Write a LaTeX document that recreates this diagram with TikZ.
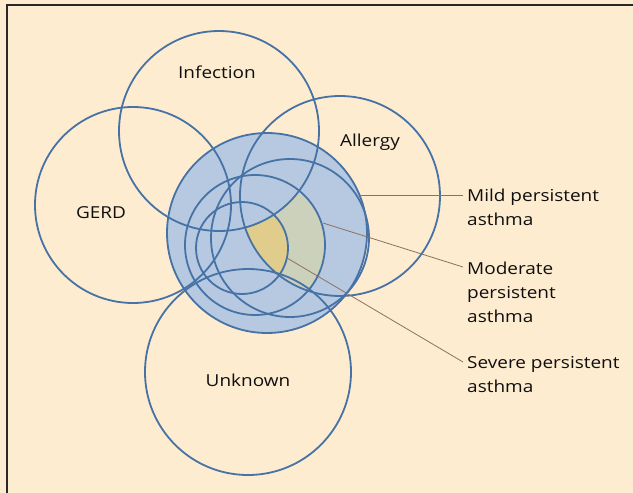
\documentclass[tikz,border=0pt]{standalone}
\usepackage{fontspec}
\setmainfont[FakeStretch=1.15]{Open Sans}
\definecolor{bg}{RGB}{253,236,208}
\definecolor{ring}{RGB}{70,114,166}
\definecolor{bluefill}{RGB}{182,201,224}
\definecolor{modfill}{RGB}{204,209,188}
\definecolor{sevfill}{RGB}{224,205,140}
\definecolor{leader}{RGB}{140,112,100}
\definecolor{frame}{RGB}{40,40,40}
\definecolor{txt}{RGB}{15,15,15}
\tikzset{
  ringline/.style={draw=ring, line width=1.8pt},
  leaderline/.style={draw=leader, line width=0.8pt},
  lbl/.style={text=txt, font=\fontsize{16.5}{24}\selectfont, inner sep=0pt},
  sidelbl/.style={lbl, anchor=west, align=left}
}
\begin{document}
\begin{tikzpicture}[x=1pt,y=-1pt]
\useasboundingbox (0,0) rectangle (633,493);
\fill[bg] (0,0) rectangle (633,493);
\draw[frame, line width=2pt] (7,493) -- (7,5) -- (633,5);
% big asthma circle fill
\fill[bluefill] (267,233) circle (100);
% moderate and severe regions: inside Allergy, outside Infection
\begin{scope}
  \clip (340,196) circle (100);
  \begin{scope}[even odd rule]
    \clip (0,0) rectangle (633,493) (219,131) circle (100);
    \fill[modfill] (255,245) circle (70);
    \fill[sevfill] (242,248) circle (46);
  \end{scope}
\end{scope}
% outlines
\draw[ringline] (219,131) circle (100);
\draw[ringline] (133,205) circle (98);
\draw[ringline] (340,196) circle (100);
\draw[ringline] (248,372) circle (103);
\draw[ringline] (267,233) circle (100);
\draw[ringline] (255,245) circle (70);
\draw[ringline] (242,248) circle (46);
\draw[ringline] (290,238) circle (79);
% labels
\node[lbl] (inf) at (217,72) {Infection};
\node[lbl] (all) at (370,142) {Allergy};
\node[lbl] (gerd) at (101,213) {GERD};
\node[lbl] (unk) at (248,380) {Unknown};
\node[sidelbl] (mild) at (467,207) {Mild persistent\\asthma};
\node[sidelbl] (mod) at (467,292) {Moderate\\persistent\\asthma};
\node[sidelbl] (sev) at (467,375) {Severe persistent\\asthma};
% leaders
\coordinate (mildA) at (360,195);
\coordinate (mildB) at (463,195);
\coordinate (modA) at (323,223);
\coordinate (modB) at (463,267);
\coordinate (sevA) at (287,258);
\coordinate (sevB) at (463,362);
\draw[leaderline] (mildA) -- (mildB);
\draw[leaderline] (modA) -- (modB);
\draw[leaderline] (sevA) -- (sevB);
\end{tikzpicture}
\end{document}
